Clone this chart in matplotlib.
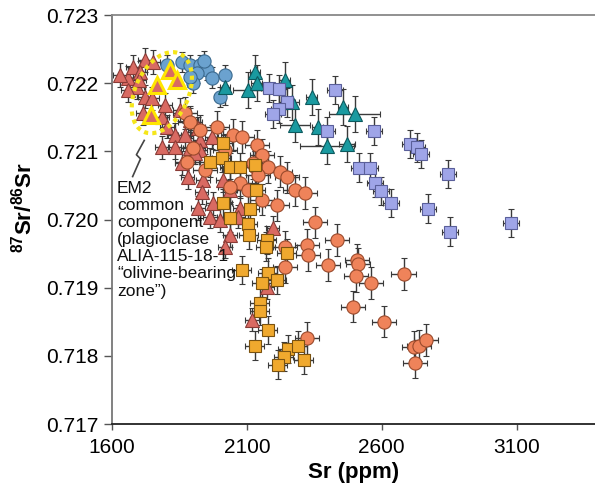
import numpy as np
import matplotlib
matplotlib.use('Agg')
import matplotlib.pyplot as plt
from matplotlib.patches import Ellipse
from matplotlib.transforms import ScaledTranslation
from matplotlib.ticker import FormatStrFormatter

plt.rcParams['font.family'] = ['Liberation Sans', 'DejaVu Sans']
plt.rcParams['mathtext.fontset'] = 'custom'
plt.rcParams['mathtext.rm'] = 'Liberation Sans'
plt.rcParams['mathtext.bf'] = 'Liberation Sans:bold'

# red triangles (plagioclase, olivine-bearing zone)
tri_red_x = [1659, 1678, 1693, 1722, 1752, 1722, 1748, 1715, 1785, 1804, 1833, 1889, 1785, 1833,
             1919, 1926, 1970, 1889, 1926, 1859, 1907, 1881, 1937, 1933, 1919, 1974, 1963, 2000,
             2037, 2019, 2011, 2037, 2074, 2196, 2067, 2174, 2119, 1630, 1704, 1796, 1852, 1870,
             1660, 1700]
tri_red_y = [0.72208, 0.72224, 0.72194, 0.72234, 0.72231, 0.72180, 0.72178, 0.72156, 0.72150,
             0.72136, 0.72124, 0.72146, 0.72106, 0.72106, 0.72134, 0.72117, 0.72121, 0.72105,
             0.72102, 0.72083, 0.72098, 0.72062, 0.72058, 0.72040, 0.72017, 0.72024, 0.72004,
             0.71999, 0.71977, 0.71960, 0.72058, 0.72043, 0.72017, 0.71988, 0.72004, 0.71901,
             0.71853, 0.72212, 0.72216, 0.72168, 0.72161, 0.72124, 0.72190, 0.72205]

# EM2 highlighted triangles
em2_x = [1815, 1841, 1767, 1744]
em2_y = [0.72219, 0.72205, 0.72197, 0.72153]

# orange circles
circ_or_x = [1870, 1889, 1989, 2048, 2081, 1900, 1878, 1944, 2137, 2156, 2178, 2130, 2141, 2222,
             2248, 2278, 2315, 2074, 2104, 2156, 2211, 2352, 2433, 2322, 2326, 2241, 2241, 2400,
             2507, 2511, 2504, 2559, 2681, 2493, 2607, 2322, 2719, 2737, 2763, 2722, 2122, 2037,
             1926, 2019]
circ_or_y = [0.72156, 0.72143, 0.72136, 0.72124, 0.72121, 0.72105, 0.72084, 0.72073, 0.72109,
             0.72095, 0.72077, 0.72077, 0.72065, 0.72070, 0.72062, 0.72043, 0.72039, 0.72054,
             0.72043, 0.72029, 0.72021, 0.71996, 0.71970, 0.71963, 0.71948, 0.71960, 0.71930,
             0.71933, 0.71941, 0.71935, 0.71917, 0.71907, 0.71920, 0.71872, 0.71850, 0.71826,
             0.71813, 0.71815, 0.71823, 0.71790, 0.72083, 0.72048, 0.72131, 0.72102]

# orange squares
sq_or_x = [2011, 1963, 2007, 2037, 2074, 2130, 2133, 2011, 2111, 2037, 2104, 2107, 2174, 2170,
           2248, 2081, 2178, 2211, 2156, 2148, 2148, 2178, 2130, 2252, 2289, 2237, 2311, 2215]
sq_or_y = [0.72112, 0.72084, 0.72090, 0.72077, 0.72077, 0.72080, 0.72043, 0.72024, 0.72016,
           0.72002, 0.71994, 0.71977, 0.71970, 0.71960, 0.71951, 0.71926, 0.71922, 0.71911,
           0.71907, 0.71878, 0.71866, 0.71838, 0.71815, 0.71810, 0.71815, 0.71799, 0.71794,
           0.71787]

# blue circles
circ_bl_x = [1804, 1859, 1889, 1926, 1952, 1970, 1915, 1900, 2019, 2000, 1889, 1940]
circ_bl_y = [0.72227, 0.72231, 0.72227, 0.72227, 0.72219, 0.72208, 0.72215, 0.72200, 0.72212,
             0.72180, 0.72209, 0.72232]

# teal triangles
tri_tl_x = [2019, 2104, 2130, 2137, 2241, 2267, 2341, 2456, 2500, 2278, 2363, 2396, 2470]
tri_tl_y = [0.72194, 0.72190, 0.72216, 0.72200, 0.72205, 0.72172, 0.72180, 0.72165, 0.72155,
            0.72139, 0.72136, 0.72108, 0.72111]
tri_tl_xerr = [20, 55, 20, 20, 20, 25, 20, 20, 95, 55, 20, 100, 30]

# lavender squares
sq_lv_x = [2181, 2219, 2248, 2219, 2196, 2426, 2396, 2570, 2704, 2730, 2744, 2844, 2515, 2556,
           2574, 2596, 2633, 2770, 2852, 3078]
sq_lv_y = [0.72193, 0.72191, 0.72172, 0.72162, 0.72155, 0.72190, 0.72130, 0.72130, 0.72111,
           0.72106, 0.72096, 0.72067, 0.72076, 0.72076, 0.72054, 0.72042, 0.72024, 0.72016,
           0.71982, 0.71995]

# EM2 ellipse centre and squiggle leader
ell_x, ell_y = 1785, 0.72186
lead_x = [1720, 1691, 1706, 1677]
lead_y = [0.72116, 0.72095, 0.72089, 0.72063]

fig = plt.figure(figsize=(5.95, 5.0), dpi=100)
ax = fig.add_axes([0.188, 0.152, 0.812, 0.818])

eb = dict(ls='none', ecolor='#3a3a3a', elinewidth=1.0, capsize=2.5, capthick=1.0, mew=0.8)

ax.errorbar(tri_red_x, tri_red_y, xerr=25, yerr=0.00017, fmt='^', ms=10.5,
            mfc='#d96a62', mec='#8a3b36', **eb)
ax.errorbar(circ_or_x, circ_or_y, xerr=45, yerr=0.00023, fmt='o', ms=9.5,
            mfc='#ef835a', mec='#9a4a2c', **eb)
ax.errorbar(circ_bl_x, circ_bl_y, xerr=20, yerr=0.00015, fmt='o', ms=9.5,
            mfc='#6ba2cf', mec='#3b6a8f', **eb)
ax.errorbar(tri_tl_x, tri_tl_y, xerr=tri_tl_xerr, yerr=0.00026, fmt='^', ms=10.5,
            mfc='#1a9aa0', mec='#0c5a5e', **eb)
ax.errorbar(sq_lv_x, sq_lv_y, xerr=30, yerr=0.00021, fmt='s', ms=9,
            mfc='#9fa5e8', mec='#5a5f9a', **eb)
ax.errorbar(sq_or_x, sq_or_y, xerr=35, yerr=0.00021, fmt='s', ms=9,
            mfc='#f0a92e', mec='#7a5210', **eb)

ax.plot(em2_x, em2_y, ls='none', marker='^', ms=12, mfc='#d96a62', mec='#ffe600', mew=2.2,
        zorder=5)

ell = Ellipse((0, 0), 0.86, 0.53, angle=65, fill=False, ec='#f5e61a', lw=3, ls=(0, (1, 1)),
              transform=fig.dpi_scale_trans + ScaledTranslation(ell_x, ell_y, ax.transData),
              zorder=6)
ax.add_patch(ell)

ax.plot(lead_x, lead_y, color='#444444', lw=1.2)
ax.text(1619, 0.72057, 'EM2\ncommon\ncomponent\n(plagioclase\nALIA-115-18-1\n\u201colivine-bearing\nzone\u201d)',
        ha='left', va='top', fontsize=12.5, linespacing=1.18, color='#111111')

ax.set_xlim(1600, 3390)
ax.set_ylim(0.717, 0.723)
ax.set_xticks([1600, 2100, 2600, 3100])
ax.set_yticks([0.717, 0.718, 0.719, 0.720, 0.721, 0.722, 0.723])
ax.yaxis.set_major_formatter(FormatStrFormatter('%.3f'))
ax.tick_params(axis='both', labelsize=15, direction='out', color='#555555')
ax.tick_params(axis='y', length=6, width=1)
ax.tick_params(axis='x', length=4, width=1, pad=6)

ax.spines['right'].set_visible(False)
ax.spines['left'].set_color('#777777')
ax.spines['top'].set_color('#888888')
ax.spines['bottom'].set_color('#222222')
for s in ax.spines.values():
    s.set_linewidth(1.3)

ax.set_xlabel('Sr (ppm)', fontsize=16, fontweight='bold', labelpad=4)
ax.set_ylabel(r'$\mathbf{^{87}Sr/^{86}Sr}$', fontsize=16)
ax.yaxis.set_label_coords(-0.155, 0.53)

fig.savefig('out.png', dpi=100)
